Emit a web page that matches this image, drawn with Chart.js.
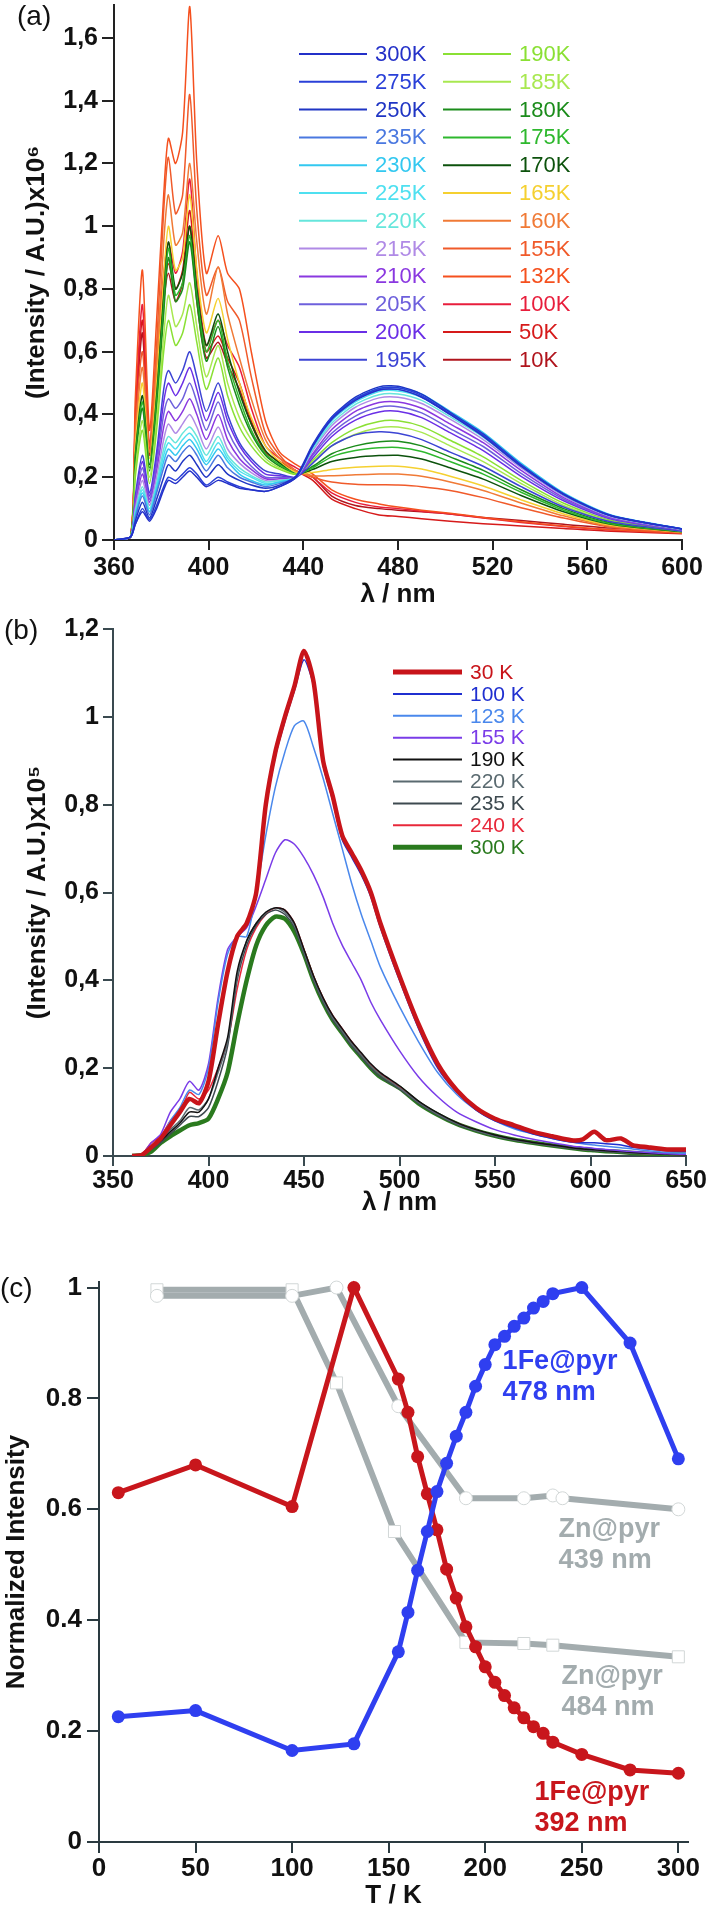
<!DOCTYPE html>
<html>
<head>
<meta charset="utf-8">
<script src="https://cdn.jsdelivr.net/npm/chart.js@4.4.0/dist/chart.umd.min.js"></script>
<style>
  body { margin: 0; background: #fff; width: 709px; height: 1911px; position: relative; overflow: hidden; }
  .panel { position: absolute; left: 0; }
  .tag { position: absolute; font: 28px "Liberation Sans", Arial, sans-serif; color: #111; line-height: 1; }
</style>
</head>
<body>
<div class="panel" style="top:0"><canvas id="chartA" width="709" height="610"></canvas></div>
<div class="panel" style="top:610px"><canvas id="chartB" width="709" height="612"></canvas></div>
<div class="panel" style="top:1222px"><canvas id="chartC" width="709" height="689"></canvas></div>
<div class="tag" style="left:17px;top:2px">(a)</div>
<div class="tag" style="left:4px;top:616px">(b)</div>
<div class="tag" style="left:0;top:1274px">(c)</div>
<script>
// ---- panel (a): emission spectra, 10 K to 300 K ----
const lambdaA = [360, 367, 369, 372, 375, 378, 381, 383, 386, 389, 392, 395, 399, 404, 408, 413, 418, 424, 430, 437, 444, 452, 462, 472, 480, 490, 502, 516, 532, 550, 570, 600];
const labelsA = ["300K", "275K", "250K", "235K", "230K", "225K", "220K", "215K", "210K", "205K", "200K", "195K",
                 "190K", "185K", "180K", "175K", "170K", "165K", "160K", "155K", "132K", "100K", "50K", "10K"];
const colorsA = ["#2330c8", "#2a40d8", "#1f35c4", "#4a78e0", "#33c8f0", "#4fe0f0", "#66e6dc", "#b08ae6", "#8a38e0", "#6e60dc", "#6a2ee6", "#3c44d4",
                 "#8ae034", "#a8e850", "#1b8c1b", "#2eb82e", "#0c520c", "#f5d030", "#f07a36", "#f05a2a", "#f5501e", "#e81e3c", "#d61a1a", "#b0141c"];
const a300 = [0, 0.01, 0.05, 0.09, 0.06, 0.1, 0.16, 0.19, 0.18, 0.2, 0.22, 0.2, 0.17, 0.19, 0.18, 0.165, 0.16, 0.155, 0.17, 0.2, 0.3, 0.385, 0.445, 0.478, 0.48, 0.455, 0.4, 0.33, 0.235, 0.145, 0.077, 0.035];
const a275 = [0, 0.01, 0.05, 0.1, 0.065, 0.11, 0.17, 0.2, 0.19, 0.21, 0.23, 0.21, 0.175, 0.2, 0.185, 0.17, 0.16, 0.155, 0.17, 0.2, 0.3, 0.39, 0.45, 0.483, 0.485, 0.46, 0.403, 0.335, 0.238, 0.146, 0.078, 0.035];
const a250 = [0, 0.01, 0.06, 0.12, 0.07, 0.13, 0.2, 0.24, 0.22, 0.25, 0.27, 0.24, 0.2, 0.24, 0.21, 0.19, 0.175, 0.165, 0.175, 0.205, 0.305, 0.392, 0.455, 0.488, 0.49, 0.465, 0.407, 0.338, 0.24, 0.147, 0.078, 0.035];
const a235 = [0, 0.01, 0.07, 0.14, 0.08, 0.15, 0.23, 0.27, 0.25, 0.28, 0.3, 0.27, 0.22, 0.27, 0.23, 0.2, 0.185, 0.17, 0.18, 0.2, 0.298, 0.384, 0.446, 0.478, 0.48, 0.456, 0.4, 0.331, 0.235, 0.144, 0.077, 0.035];
const a230 = [0, 0.01, 0.08, 0.15, 0.09, 0.16, 0.25, 0.29, 0.27, 0.3, 0.32, 0.29, 0.24, 0.29, 0.25, 0.21, 0.19, 0.175, 0.185, 0.2, 0.3, 0.388, 0.45, 0.483, 0.485, 0.465, 0.41, 0.342, 0.245, 0.15, 0.08, 0.036];
const a225 = [0, 0.01, 0.08, 0.16, 0.09, 0.17, 0.27, 0.31, 0.29, 0.32, 0.34, 0.31, 0.25, 0.31, 0.26, 0.22, 0.2, 0.18, 0.185, 0.2, 0.295, 0.38, 0.44, 0.473, 0.475, 0.455, 0.402, 0.335, 0.24, 0.147, 0.078, 0.035];
const a220 = [0, 0.01, 0.09, 0.17, 0.1, 0.18, 0.29, 0.33, 0.31, 0.34, 0.36, 0.33, 0.27, 0.33, 0.27, 0.23, 0.205, 0.185, 0.19, 0.2, 0.29, 0.372, 0.432, 0.463, 0.465, 0.445, 0.393, 0.328, 0.235, 0.144, 0.076, 0.034];
const a215 = [0, 0.01, 0.1, 0.19, 0.11, 0.2, 0.32, 0.37, 0.34, 0.37, 0.4, 0.36, 0.29, 0.36, 0.29, 0.245, 0.215, 0.19, 0.19, 0.2, 0.285, 0.364, 0.423, 0.453, 0.455, 0.435, 0.385, 0.32, 0.23, 0.14, 0.074, 0.034];
const a210 = [0, 0.01, 0.11, 0.21, 0.12, 0.22, 0.36, 0.41, 0.38, 0.41, 0.45, 0.4, 0.32, 0.4, 0.32, 0.26, 0.225, 0.195, 0.195, 0.2, 0.275, 0.352, 0.41, 0.438, 0.44, 0.42, 0.37, 0.31, 0.222, 0.135, 0.072, 0.033];
const a205 = [0, 0.01, 0.12, 0.23, 0.13, 0.24, 0.4, 0.45, 0.42, 0.45, 0.5, 0.44, 0.35, 0.44, 0.35, 0.28, 0.235, 0.2, 0.2, 0.2, 0.27, 0.34, 0.395, 0.423, 0.425, 0.405, 0.355, 0.298, 0.212, 0.13, 0.07, 0.032];
const a200 = [0, 0.01, 0.13, 0.25, 0.14, 0.26, 0.44, 0.5, 0.46, 0.5, 0.55, 0.48, 0.38, 0.47, 0.38, 0.3, 0.25, 0.21, 0.205, 0.2, 0.262, 0.33, 0.382, 0.408, 0.41, 0.39, 0.342, 0.285, 0.203, 0.125, 0.067, 0.031];
const a195 = [0, 0.01, 0.14, 0.27, 0.15, 0.28, 0.48, 0.54, 0.5, 0.54, 0.6, 0.52, 0.41, 0.5, 0.4, 0.31, 0.26, 0.22, 0.21, 0.2, 0.245, 0.3, 0.335, 0.345, 0.34, 0.32, 0.28, 0.235, 0.17, 0.105, 0.058, 0.028];
const a190 = [0, 0.01, 0.2, 0.35, 0.18, 0.35, 0.6, 0.7, 0.62, 0.66, 0.75, 0.63, 0.48, 0.58, 0.46, 0.36, 0.3, 0.25, 0.225, 0.21, 0.255, 0.31, 0.355, 0.378, 0.38, 0.362, 0.318, 0.265, 0.19, 0.117, 0.063, 0.03];
const a185 = [0, 0.01, 0.22, 0.38, 0.2, 0.38, 0.65, 0.78, 0.68, 0.72, 0.82, 0.68, 0.52, 0.62, 0.5, 0.39, 0.32, 0.26, 0.23, 0.21, 0.25, 0.3, 0.337, 0.358, 0.36, 0.343, 0.3, 0.25, 0.18, 0.11, 0.06, 0.029];
const a180 = [0, 0.01, 0.25, 0.42, 0.22, 0.42, 0.72, 0.9, 0.76, 0.8, 0.95, 0.76, 0.57, 0.68, 0.55, 0.43, 0.34, 0.27, 0.235, 0.21, 0.235, 0.275, 0.3, 0.313, 0.315, 0.3, 0.265, 0.222, 0.16, 0.1, 0.055, 0.028];
const a175 = [0, 0.01, 0.26, 0.44, 0.23, 0.44, 0.75, 0.93, 0.78, 0.82, 0.97, 0.78, 0.6, 0.7, 0.57, 0.45, 0.35, 0.275, 0.24, 0.21, 0.23, 0.265, 0.285, 0.294, 0.295, 0.282, 0.25, 0.21, 0.152, 0.095, 0.052, 0.027];
const a170 = [0, 0.01, 0.27, 0.46, 0.24, 0.46, 0.78, 0.95, 0.8, 0.85, 1.0, 0.8, 0.62, 0.72, 0.6, 0.47, 0.37, 0.285, 0.245, 0.21, 0.225, 0.25, 0.263, 0.269, 0.27, 0.258, 0.23, 0.194, 0.142, 0.09, 0.05, 0.026];
const a165 = [0, 0.01, 0.3, 0.5, 0.26, 0.5, 0.84, 1.0, 0.86, 0.9, 1.1, 0.86, 0.66, 0.77, 0.64, 0.5, 0.39, 0.3, 0.25, 0.215, 0.215, 0.225, 0.232, 0.235, 0.235, 0.226, 0.203, 0.172, 0.128, 0.083, 0.047, 0.025];
const a160 = [0, 0.01, 0.33, 0.55, 0.28, 0.56, 0.95, 1.1, 0.94, 0.98, 1.2, 0.95, 0.72, 0.87, 0.72, 0.58, 0.45, 0.32, 0.26, 0.22, 0.205, 0.205, 0.208, 0.21, 0.21, 0.203, 0.185, 0.158, 0.118, 0.077, 0.044, 0.024];
const a155 = [0, 0.01, 0.36, 0.6, 0.3, 0.62, 1.05, 1.22, 1.04, 1.1, 1.42, 1.05, 0.78, 0.87, 0.76, 0.7, 0.52, 0.34, 0.27, 0.22, 0.2, 0.185, 0.178, 0.176, 0.175, 0.17, 0.158, 0.135, 0.103, 0.07, 0.041, 0.023];
const a132 = [0, 0.01, 0.45, 0.86, 0.35, 0.7, 1.1, 1.28, 1.2, 1.3, 1.7, 1.2, 0.85, 0.97, 0.85, 0.8, 0.6, 0.38, 0.28, 0.24, 0.21, 0.16, 0.13, 0.115, 0.105, 0.095, 0.085, 0.072, 0.058, 0.045, 0.033, 0.022];
const a100 = [0, 0.01, 0.4, 0.75, 0.3, 0.6, 0.85, 0.95, 0.85, 0.92, 1.15, 0.85, 0.62, 0.7, 0.62, 0.55, 0.42, 0.3, 0.26, 0.23, 0.2, 0.15, 0.12, 0.105, 0.1, 0.092, 0.083, 0.07, 0.056, 0.043, 0.032, 0.022];
const a50 = [0, 0.01, 0.38, 0.7, 0.28, 0.55, 0.8, 0.88, 0.8, 0.86, 1.05, 0.8, 0.6, 0.65, 0.58, 0.5, 0.38, 0.28, 0.25, 0.22, 0.19, 0.13, 0.1, 0.08, 0.075, 0.068, 0.06, 0.052, 0.045, 0.037, 0.028, 0.02];
const a10 = [0, 0.01, 0.36, 0.66, 0.27, 0.52, 0.76, 0.85, 0.76, 0.82, 1.0, 0.76, 0.58, 0.63, 0.56, 0.48, 0.37, 0.28, 0.25, 0.22, 0.2, 0.14, 0.11, 0.1, 0.095, 0.09, 0.083, 0.072, 0.062, 0.05, 0.038, 0.025];
const seriesA = [a300, a275, a250, a235, a230, a225, a220, a215, a210, a205, a200, a195,
                 a190, a185, a180, a175, a170, a165, a160, a155, a132, a100, a50, a10];
const xTicksA = [360, 400, 440, 480, 520, 560, 600];
const yTicksA = [0, 0.2, 0.4, 0.6, 0.8, 1, 1.2, 1.4, 1.6];
const yLabelsA = ["0", "0,2", "0,4", "0,6", "0,8", "1", "1,2", "1,4", "1,6"];

// ---- panel (b) ----
const lambdaB = [360, 365, 370, 375, 380, 385, 390, 395, 400, 405, 410, 415, 420, 425, 430, 435, 440, 445, 450, 455,
                 460, 465, 470, 475, 480, 485, 490, 500, 510, 520, 530, 540, 550, 560, 570, 580, 590, 596, 602, 608,
                 616, 622, 630, 640, 650];
const labelsB = ["30 K", "100 K", "123 K", "155 K", "190 K", "220 K", "235 K", "240 K", "300 K"];
const colorsB = ["#c8141a", "#1f2fd0", "#4a88ec", "#7a3ce8", "#111111", "#5a6a70", "#3e4a50", "#e8283a", "#2a7a1e"];
const widthsB = [4.5, 1.5, 1.5, 1.5, 1.5, 1.5, 1.5, 1.5, 4.5];
const b30 = [0, 0.002, 0.02, 0.04, 0.07, 0.1, 0.13, 0.12, 0.17, 0.3, 0.42, 0.5, 0.53, 0.6, 0.8, 0.92, 1.0, 1.07, 1.15, 1.08,
             0.9, 0.82, 0.73, 0.69, 0.65, 0.6, 0.53, 0.41, 0.3, 0.21, 0.15, 0.11, 0.085, 0.07, 0.055, 0.045, 0.036, 0.038, 0.055, 0.036,
             0.04, 0.025, 0.02, 0.015, 0.015];
const b100 = [0, 0.002, 0.02, 0.04, 0.07, 0.1, 0.13, 0.12, 0.17, 0.3, 0.42, 0.5, 0.53, 0.6, 0.79, 0.91, 0.99, 1.06, 1.13, 1.07,
              0.89, 0.81, 0.72, 0.68, 0.64, 0.59, 0.52, 0.4, 0.29, 0.2, 0.145, 0.105, 0.08, 0.065, 0.05, 0.04, 0.032, 0.03, 0.03, 0.028,
              0.025, 0.02, 0.016, 0.012, 0.01];
const b123 = [0, 0.002, 0.02, 0.04, 0.08, 0.11, 0.15, 0.14, 0.2, 0.35, 0.46, 0.5, 0.5, 0.6, 0.73, 0.84, 0.92, 0.98, 0.99, 0.93,
              0.86, 0.78, 0.7, 0.62, 0.55, 0.49, 0.43, 0.34, 0.26, 0.19, 0.14, 0.105, 0.08, 0.062, 0.05, 0.04, 0.032, 0.028, 0.025, 0.022,
              0.019, 0.016, 0.012, 0.008, 0.006];
const b155 = [0, 0.003, 0.03, 0.05, 0.1, 0.13, 0.17, 0.15, 0.21, 0.36, 0.47, 0.5, 0.52, 0.57, 0.63, 0.69, 0.72, 0.71, 0.68, 0.64,
              0.59, 0.53, 0.48, 0.44, 0.4, 0.35, 0.31, 0.24, 0.18, 0.135, 0.1, 0.078, 0.06, 0.048, 0.038, 0.03, 0.023, 0.02, 0.017, 0.015,
              0.012, 0.01, 0.008, 0.005, 0.004];
const b190 = [0, 0.003, 0.02, 0.035, 0.055, 0.075, 0.1, 0.1, 0.13, 0.2, 0.27, 0.42, 0.49, 0.53, 0.555, 0.565, 0.56, 0.53, 0.47, 0.41,
              0.36, 0.32, 0.29, 0.26, 0.235, 0.21, 0.19, 0.16, 0.125, 0.098, 0.076, 0.06, 0.048, 0.038, 0.031, 0.025, 0.019, 0.016, 0.014, 0.012,
              0.01, 0.008, 0.006, 0.004, 0.003];
const b220 = [0, 0.003, 0.02, 0.035, 0.06, 0.08, 0.11, 0.105, 0.13, 0.19, 0.26, 0.41, 0.49, 0.53, 0.555, 0.565, 0.555, 0.525, 0.465, 0.405,
              0.355, 0.315, 0.285, 0.255, 0.23, 0.205, 0.185, 0.155, 0.122, 0.095, 0.074, 0.058, 0.046, 0.037, 0.03, 0.024, 0.018, 0.015, 0.013, 0.011,
              0.009, 0.007, 0.005, 0.004, 0.003];
const b235 = [0, 0.003, 0.015, 0.03, 0.05, 0.07, 0.09, 0.09, 0.11, 0.17, 0.25, 0.4, 0.48, 0.525, 0.55, 0.56, 0.55, 0.52, 0.46, 0.4,
              0.35, 0.31, 0.28, 0.25, 0.225, 0.2, 0.18, 0.152, 0.12, 0.093, 0.072, 0.057, 0.045, 0.036, 0.029, 0.023, 0.017, 0.014, 0.012, 0.01,
              0.008, 0.006, 0.005, 0.004, 0.003];
const b240 = [0, 0.003, 0.03, 0.045, 0.08, 0.1, 0.145, 0.13, 0.15, 0.2, 0.26, 0.38, 0.47, 0.52, 0.55, 0.565, 0.56, 0.53, 0.47, 0.41,
              0.36, 0.32, 0.29, 0.26, 0.232, 0.207, 0.187, 0.157, 0.123, 0.096, 0.075, 0.059, 0.047, 0.037, 0.03, 0.024, 0.018, 0.015, 0.013, 0.011,
              0.009, 0.007, 0.005, 0.004, 0.003];
const b300 = [0, 0.002, 0.01, 0.03, 0.045, 0.058, 0.07, 0.075, 0.085, 0.13, 0.19, 0.3, 0.4, 0.48, 0.525, 0.545, 0.54, 0.51, 0.46, 0.4,
              0.35, 0.31, 0.28, 0.25, 0.225, 0.2, 0.18, 0.155, 0.12, 0.094, 0.073, 0.058, 0.046, 0.037, 0.03, 0.024, 0.018, 0.015, 0.013, 0.011,
              0.009, 0.007, 0.005, 0.004, 0.003];
const seriesB = [b30, b100, b123, b155, b190, b220, b235, b240, b300];
const xTicksB = [350, 400, 450, 500, 550, 600, 650];
const yTicksB = [0, 0.2, 0.4, 0.6, 0.8, 1, 1.2];
const yLabelsB = ["0", "0,2", "0,4", "0,6", "0,8", "1", "1,2"];

// ---- panel (c): normalized intensity vs T ----
const tempFe = [10, 50, 100, 132, 155, 160, 165, 170, 175, 180, 185, 190, 195, 200, 205, 210, 215, 220, 225, 230, 235, 250, 275, 300];
const fe478 = [0.226, 0.237, 0.165, 0.177, 0.343, 0.414, 0.49, 0.56, 0.632, 0.683, 0.732, 0.775, 0.822, 0.861, 0.897, 0.912, 0.93, 0.945, 0.963, 0.975, 0.989, 1.0, 0.9, 0.691];
const fe392 = [0.63, 0.68, 0.605, 1.0, 0.835, 0.775, 0.695, 0.628, 0.563, 0.492, 0.44, 0.388, 0.352, 0.316, 0.288, 0.264, 0.242, 0.224, 0.208, 0.196, 0.18, 0.158, 0.13, 0.124];
const tempZn439 = [30, 100, 123, 155, 190, 220, 235, 240, 300];
const zn439 = [0.985, 0.985, 1.0, 0.786, 0.62, 0.62, 0.625, 0.62, 0.6];
const tempZn484 = [30, 100, 123, 153, 190, 220, 235, 300];
const zn484 = [0.996, 0.996, 0.828, 0.56, 0.36, 0.358, 0.355, 0.334];
const xTicksC = [0, 50, 100, 150, 200, 250, 300];
const yTicksC = [0, 0.2, 0.4, 0.6, 0.8, 1];
const yLabelsC = ["0", "0.2", "0.4", "0.6", "0.8", "1"];

const FONT = '"Liberation Sans", Arial, sans-serif';
Chart.defaults.font.family = FONT;
Chart.defaults.animation = false;

function xy(xs, ys) {
    return xs.map((x, i) => ({ x: x, y: ys[i] }));
}

function axis(o) {
    return {
        type: "linear",
        position: o.pos,
        min: o.min,
        max: o.max,
        afterBuildTicks: (s) => { s.ticks = o.ticks.map((v) => ({ value: v })); },
        afterFit: (s) => {
            if (o.pos === "left") s.width = o.size; else s.height = o.size;
            s.paddingTop = 0; s.paddingBottom = 0; s.paddingLeft = 0; s.paddingRight = 0;
        },
        ticks: {
            callback: (v, i) => o.labels[i],
            font: { size: o.fontSize, weight: "bold" },
            color: "#111",
            padding: o.pad,
            maxRotation: 0,
            autoSkip: false,
        },
        grid: { drawOnChartArea: false, drawTicks: true, tickLength: o.tickLen, color: o.color, lineWidth: 2 },
        border: { display: true, color: o.color, width: 2 },
        title: { display: true, text: o.title, font: { size: 26, weight: "bold" }, color: "#111", padding: o.titlePad },
    };
}

// legend drawn in columns, like the figure
function columnLegend(id, cfg) {
    return {
        id: id,
        afterDraw(chart) {
            const ctx = chart.ctx;
            ctx.save();
            ctx.font = cfg.fontSize + "px " + FONT;
            ctx.textBaseline = "middle";
            chart.data.datasets.forEach((ds, i) => {
                const col = Math.floor(i / cfg.rows);
                const row = i % cfg.rows;
                const x0 = cfg.x[col];
                const y = cfg.y + row * cfg.step;
                ctx.strokeStyle = ds.borderColor;
                ctx.lineWidth = cfg.widths ? cfg.widths[i] : 2;
                ctx.beginPath();
                ctx.moveTo(x0, y);
                ctx.lineTo(x0 + cfg.len, y);
                ctx.stroke();
                ctx.fillStyle = ds.borderColor;
                ctx.fillText(ds.label, x0 + cfg.len + 8, y + 1);
            });
            ctx.restore();
        },
    };
}

function renderPanelA() {
    const ctx = document.getElementById("chartA").getContext("2d");
    new Chart(ctx, {
        type: "line",
        data: {
            datasets: seriesA.map((s, i) => ({
                label: labelsA[i],
                data: xy(lambdaA, s),
                borderColor: colorsA[i],
                borderWidth: 1.5,
                pointRadius: 0,
                tension: 0.25,
            })),
        },
        options: {
            responsive: false,
            layout: { padding: { left: 0, right: 27, top: 5, bottom: 0 } },
            plugins: { legend: { display: false }, tooltip: { enabled: false } },
            scales: {
                x: axis({ pos: "bottom", min: 360, max: 600, ticks: xTicksA, labels: xTicksA.map(String), size: 70,
                          fontSize: 25, pad: 3, tickLen: 10, color: "#222", title: "λ / nm", titlePad: { top: 0, bottom: 0 } }),
                y: axis({ pos: "left", min: 0, max: 1.705, ticks: yTicksA, labels: yLabelsA, size: 114,
                          fontSize: 25, pad: 4, tickLen: 12, color: "#222", title: "(Intensity / A.U.)x10⁶", titlePad: { top: 21, bottom: 0 } }),
            },
        },
        plugins: [columnLegend("legendA", { rows: 12, x: [299, 443], y: 54, step: 27.8, len: 68, fontSize: 22 })],
    });
}

function renderPanelB() {
    const ctx = document.getElementById("chartB").getContext("2d");
    new Chart(ctx, {
        type: "line",
        data: {
            datasets: seriesB.map((s, i) => ({
                label: labelsB[i],
                data: xy(lambdaB, s),
                borderColor: colorsB[i],
                borderWidth: widthsB[i],
                pointRadius: 0,
                tension: 0.25,
            })),
        },
        options: {
            responsive: false,
            layout: { padding: { left: 0, right: 23, top: 19, bottom: 0 } },
            plugins: { legend: { display: false }, tooltip: { enabled: false } },
            scales: {
                x: axis({ pos: "bottom", min: 350, max: 650, ticks: xTicksB, labels: xTicksB.map(String), size: 66,
                          fontSize: 25, pad: 0, tickLen: 10, color: "#3a4a50", title: "λ / nm", titlePad: { top: 0, bottom: 4 } }),
                y: axis({ pos: "left", min: 0, max: 1.2, ticks: yTicksB, labels: yLabelsB, size: 113,
                          fontSize: 25, pad: 4, tickLen: 10, color: "#3a4a50", title: "(Intensity / A.U.)x10⁵", titlePad: { top: 22, bottom: 0 } }),
            },
        },
        plugins: [columnLegend("legendB", { rows: 9, x: [393], y: 62, step: 21.9, len: 69, fontSize: 21, widths: [5, 2, 2, 2, 2, 2, 2, 2, 5] })],
    });
}

function renderPanelC() {
    const ctx = document.getElementById("chartC").getContext("2d");
    const notes = [
        { lines: ["1Fe@pyr", "478 nm"], t: 209, v: 0.866, color: "#2f3ff0" },
        { lines: ["Zn@pyr", "439 nm"], t: 238, v: 0.563, color: "#a3acae" },
        { lines: ["Zn@pyr", "484 nm"], t: 239.5, v: 0.298, color: "#a3acae" },
        { lines: ["1Fe@pyr", "392 nm"], t: 225.5, v: 0.09, color: "#c8161c" },
    ];
    const noteLabels = {
        id: "noteLabels",
        afterDraw(chart) {
            const c = chart.ctx;
            const xs = chart.scales.x;
            const ys = chart.scales.y;
            c.save();
            c.font = "bold 27px " + FONT;
            c.textBaseline = "middle";
            notes.forEach((n) => {
                c.fillStyle = n.color;
                n.lines.forEach((line, k) => {
                    c.fillText(line, xs.getPixelForValue(n.t), ys.getPixelForValue(n.v) + k * 31);
                });
            });
            c.restore();
        },
    };
    new Chart(ctx, {
        type: "line",
        data: {
            datasets: [
                {
                    label: "1Fe@pyr 478 nm", data: xy(tempFe, fe478), borderColor: "#2f3ff0", backgroundColor: "#2f3ff0",
                    borderWidth: 5, pointRadius: 6.5, pointBorderWidth: 0, clip: false,
                },
                {
                    label: "1Fe@pyr 392 nm", data: xy(tempFe, fe392), borderColor: "#c8161c", backgroundColor: "#c8161c",
                    borderWidth: 5, pointRadius: 6.5, pointBorderWidth: 0, clip: false,
                },
                {
                    label: "Zn@pyr 439 nm", data: xy(tempZn439, zn439), borderColor: "#a3acae", borderWidth: 6,
                    pointStyle: "circle", pointRadius: 6.5, pointBackgroundColor: "#ffffff", pointBorderColor: "#d2d7d7",
                    pointBorderWidth: 1, clip: false,
                },
                {
                    label: "Zn@pyr 484 nm", data: xy(tempZn484, zn484), borderColor: "#a3acae", borderWidth: 6,
                    pointStyle: "rect", pointRadius: 8.5, pointBackgroundColor: "#ffffff", pointBorderColor: "#d2d7d7",
                    pointBorderWidth: 1, clip: false,
                },
            ],
        },
        options: {
            responsive: false,
            layout: { padding: { left: 0, right: 21, top: 60, bottom: 0 } },
            plugins: { legend: { display: false }, tooltip: { enabled: false } },
            scales: {
                x: axis({ pos: "bottom", min: 0, max: 305, ticks: xTicksC, labels: xTicksC.map(String), size: 69,
                          fontSize: 26, pad: 0, tickLen: 11, color: "#2a3a40", title: "T / K", titlePad: { top: 0, bottom: 0 } }),
                y: axis({ pos: "left", min: 0, max: 1.01, ticks: yTicksC, labels: yLabelsC, size: 99,
                          fontSize: 26, pad: 5, tickLen: 12, color: "#2a3a40", title: "Normalized Intensity", titlePad: { top: 1, bottom: 0 } }),
            },
        },
        plugins: [noteLabels],
    });
}

document.addEventListener("DOMContentLoaded", () => {
    renderPanelA();
    renderPanelB();
    renderPanelC();
});
</script>
</body>
</html>
